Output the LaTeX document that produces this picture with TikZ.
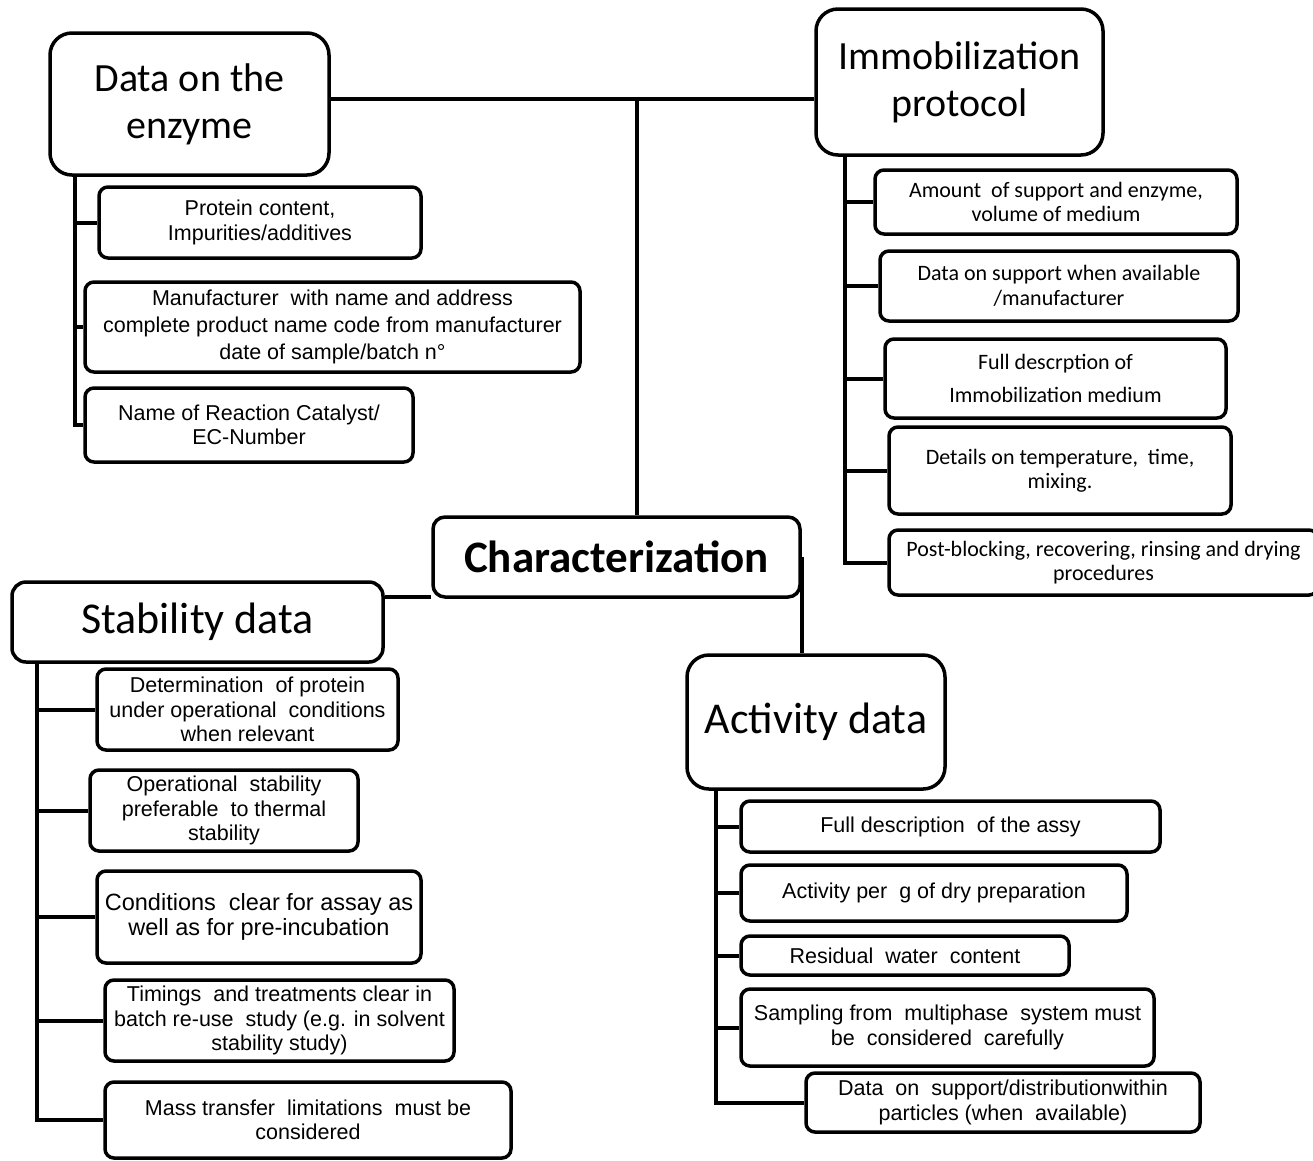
\documentclass[tikz,border=0pt]{standalone}
\usepackage{fontspec}
\setmainfont{Liberation Sans}
\newfontfamily\calibri{Carlito}
\usetikzlibrary{positioning,calc}

\tikzset{
  link/.style={line width=4pt},
  sz/.style 2 args={minimum width=#1pt, minimum height=#2pt},
  head/.style={draw, line width=3.5pt, rounded corners=22pt, align=center, inner sep=0pt,
               font=\calibri\fontsize{40}{47}\selectfont},
  item/.style={draw, line width=3.5pt, rounded corners=9pt, align=center, inner sep=0pt,
               font=\fontsize{21.5}{24.5}\selectfont},
  citem/.style={item, font=\calibri\fontsize{22}{24.5}\selectfont}
}

\begin{document}
\begin{tikzpicture}[x=1pt, y=-1pt]
  \useasboundingbox (0,0) rectangle (1313,1160);

  % main headings
  \node[head, sz={279}{142}] (enzyme) at (189.5,104) {Data on the\\enzyme};
  \node[head, sz={287}{146}] (immob) at (959.5,82) {Immobilization\\protocol};
  \node[head, sz={367}{80}, rounded corners=12pt,
        font=\calibri\bfseries\fontsize{45}{50}\selectfont] (char) at (616.5,557) {Characterization};
  \node[head, sz={371}{80}, rounded corners=14pt,
        font=\calibri\fontsize{44}{50}\selectfont] (stab) at (197.5,622) {Stability data};
  \node[head, sz={258}{134}, font=\calibri\fontsize{44}{50}\selectfont] (act) at (816,722) {Activity data};

  % enzyme data
  \node[item, sz={322}{71}] (protein) at (260,222.5) {Protein content,\\Impurities/additives};
  \node[item, sz={495}{90}, font=\fontsize{21.5}{27}\selectfont] (maker) at (332.5,327)
    {Manufacturer\ \ with name and address\\complete product name code from manufacturer\\date of sample/batch n°};
  \node[item, sz={328}{74}] (catalyst) at (249,425) {Name of Reaction Catalyst/\\EC-Number};

  % immobilization protocol
  \node[citem, sz={362}{64}] (amount) at (1056,202) {Amount\ \ of support and enzyme,\\volume of medium};
  \node[citem, sz={358}{70}] (support) at (1059,286) {Data on support when available\\/manufacturer};
  \node[citem, sz={341}{79}, font=\calibri\fontsize{22}{33.5}\selectfont] (medium) at (1055.5,378.5)
    {Full descrption of\\Immobilization medium};
  \node[citem, sz={342}{87}] (details) at (1060,470.5) {Details on temperature,\ \ time,\\mixing.};
  \node[citem, sz={429}{65}] (post) at (1103.5,562.5) {Post-blocking, recovering, rinsing and drying\\procedures};

  % stability data
  \node[item, sz={301}{81}] (protdet) at (247.5,709.5) {Determination\ \ of protein\\under operational\ \ conditions\\when relevant};
  \node[item, sz={268}{81}] (operat) at (224,810.5) {Operational\ \ stability\\preferable\ \ to thermal\\stability};
  \node[item, sz={324}{92}, font=\fontsize{23.5}{25}\selectfont] (cond) at (259,917)
    {Conditions\ \ clear for assay as\\well as for pre-incubation};
  \node[item, sz={349}{81}] (timing) at (279.5,1020.5) {Timings\ \ and treatments clear in\\batch re-use\ \ study (e.g. in solvent\\stability study)};
  \node[item, sz={406}{76}] (masstr) at (308,1120) {Mass transfer\ \ limitations\ \ must be\\considered};

  % activity data
  \node[item, sz={419}{51}] (assay) at (950.5,826.5) {Full description\ \ of the assy};
  \node[item, sz={386}{56}] (drypg) at (934,893) {Activity per\ \ g of dry preparation};
  \node[item, sz={328}{39}] (water) at (905,955.5) {Residual\ \ water\ \ content};
  \node[item, sz={413}{77}] (sampling) at (947.5,1027.5) {Sampling from\ \ multiphase\ \ system must\\be\ \ considered\ \ carefully};
  \node[item, sz={394}{59}] (distrib) at (1003,1102.5) {Data\ \ on\ \ support/distributionwithin\\particles (when\ \ available)};

  % connectors
  \coordinate (hub) at (637,99);
  \draw[link] (enzyme.east |- hub) -- (immob.west |- hub);
  \draw[link] (hub) -- (char.north -| hub);
  \draw[link] ([yshift=2pt]char.south west) -- ([yshift=2pt]char.south west -| stab.east);
  \draw[link] (char.east) -- (char.east |- act.north);

  \coordinate (bar1) at (75,0);
  \coordinate (bar2) at (845,0);
  \coordinate (bar3) at (37,0);
  \coordinate (bar4) at (716,0);
  \foreach \c in {protein,maker,catalyst}
    \draw[link] (enzyme.south -| bar1) |- (\c.west);
  \foreach \c in {amount,support,medium,details,post}
    \draw[link] (immob.south -| bar2) |- (\c.west);
  \foreach \c in {protdet,operat,cond,timing,masstr}
    \draw[link] (stab.south -| bar3) |- (\c.west);
  \foreach \c in {assay,drypg,water,sampling,distrib}
    \draw[link] (act.south -| bar4) |- (\c.west);
\end{tikzpicture}
\end{document}
